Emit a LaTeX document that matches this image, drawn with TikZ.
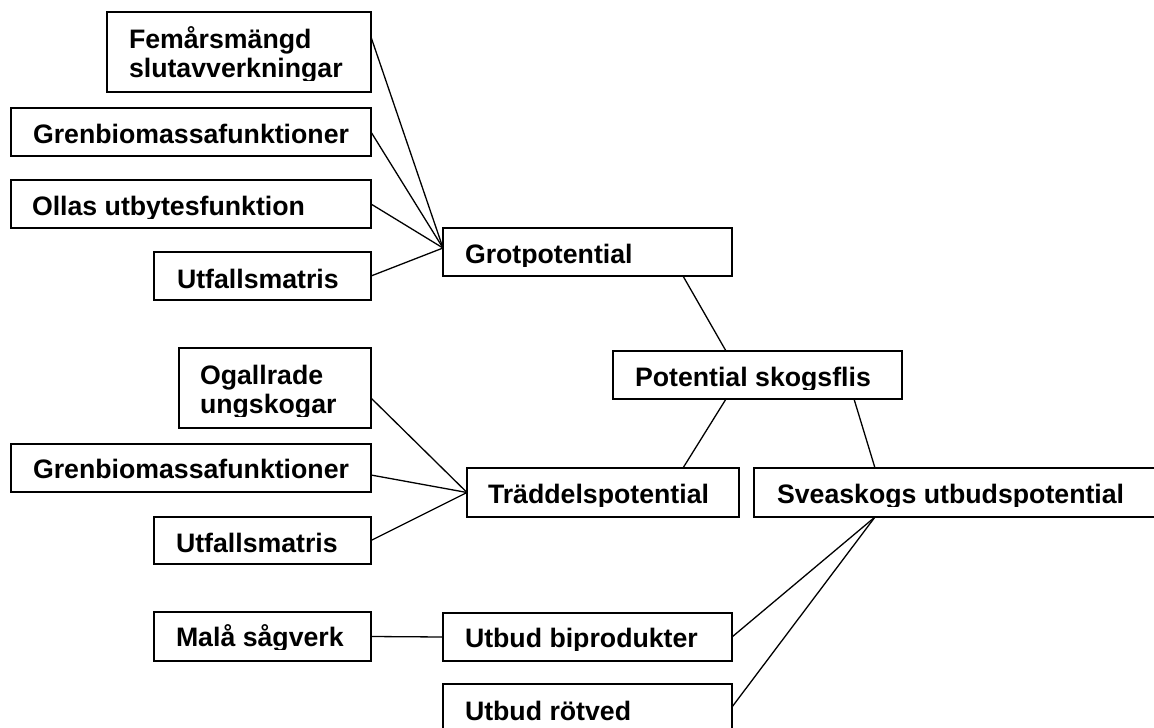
\documentclass[tikz,border=0pt]{standalone}
\usepackage{fontspec}
\setmainfont{Liberation Sans}
\usetikzlibrary{calc}
\tikzset{
  box/.style={draw=black, line width=1.5pt, rectangle, inner sep=0pt, outer sep=0pt, anchor=north west},
  lbl/.style={anchor=base west, inner sep=0pt, outer sep=0pt, font=\bfseries\fontsize{26.7}{30}\selectfont},
  conn/.style={draw=black, line width=1.3pt},
}
% name, x1, y1, x2, y2
\newcommand\mybox[5]{\node[box, minimum width={#4-#2}, minimum height={#5-#3}] (#1) at (#2,#3) {};}
% name, x1, y1, x2, clip-y, text-x, baseline, text
\newcommand\mytext[8]{\begin{scope}\clip (#2,#3) rectangle (#4,#5);
  \node[lbl] (#1) at (#6,#7) {#8};\end{scope}}
\begin{document}
\begin{tikzpicture}[x=1pt,y=-1pt]
\useasboundingbox (0,0) rectangle (1154,728);
\clip (0,0) rectangle (1154,728);
% boxes
\mybox{fem}{107}{12}{371}{92}
\mybox{grenA}{11}{108}{371}{156}
\mybox{ollas}{11}{180}{371}{228}
\mybox{utfA}{154}{252}{371}{300}
\mybox{grot}{443}{228}{732}{276}
\mybox{ps}{613}{351}{902}{399}
\mybox{ogal}{179}{348}{371}{428}
\mybox{grenB}{11}{444}{371}{492}
\mybox{utfB}{154}{517}{371}{564}
\mybox{mala}{154}{612}{371}{661}
\mybox{trad}{467}{468}{739}{517}
\mybox{svea}{754}{468}{1180}{517}
\mybox{ubi}{443}{613}{732}{661}
\mybox{urot}{443}{684}{732}{740}
% texts
\mytext{tfemA}{107}{12}{371}{80}{129}{48}{Femårsmängd}
\mytext{tfemB}{107}{12}{371}{80}{129}{77}{slutavverkningar}
\mytext{tgrenA}{11}{108}{371}{146}{33}{143}{Grenbiomassafunktioner}
\mytext{tollas}{11}{180}{371}{218}{32}{215}{Ollas utbytesfunktion}
\mytext{tutfA}{154}{252}{371}{291}{177}{288}{Utfallsmatris}
\mytext{tgrot}{443}{228}{732}{266}{465}{263}{Grotpotential}
\mytext{tps}{613}{351}{902}{389}{635}{386}{Potential skogsflis}
\mytext{togalA}{179}{348}{371}{416}{200}{384}{Ogallrade}
\mytext{togalB}{179}{348}{371}{416}{200}{413}{ungskogar}
\mytext{tgrenB}{11}{444}{371}{481}{33}{478}{Grenbiomassafunktioner}
\mytext{tutfB}{154}{517}{371}{555}{176}{552}{Utfallsmatris}
\mytext{tmala}{154}{612}{371}{649}{176}{646}{Malå sågverk}
\mytext{ttrad}{467}{468}{739}{506}{488}{503}{Träddelspotential}
\mytext{tsvea}{754}{468}{1180}{506}{777}{503}{Sveaskogs utbudspotential}
\mytext{tubi}{443}{613}{732}{650}{465}{647}{Utbud biprodukter}
\mytext{turot}{443}{684}{732}{723}{465}{720}{Utbud rötved}
% connectors
\draw[conn] ([yshift=15pt]fem.east) -- ([yshift=4pt]grot.west);
\draw[conn] (grenA.east) -- ([yshift=4pt]grot.west);
\draw[conn] (ollas.east) -- ([yshift=4pt]grot.west);
\draw[conn] (utfA.east) -- ([yshift=4pt]grot.west);
\draw[conn] ([xshift=-49pt]grot.south east) -- ([xshift=-31.5pt]ps.north);
\draw[conn] ([xshift=-31.5pt]ps.south) -- ([xshift=80pt]trad.north);
\draw[conn] ([xshift=96.5pt]ps.south) -- ([xshift=121pt]svea.north west);
\draw[conn] ([yshift=-10pt]ogal.east) -- (trad.west);
\draw[conn] ([yshift=-7pt]grenB.east) -- (trad.west);
\draw[conn] (utfB.east) -- (trad.west);
\draw[conn] (mala.east) -- (ubi.west);
\draw[conn] ([xshift=121pt]svea.south west) -- (ubi.east);
\draw[conn] ([xshift=121pt]svea.south west) -- ([yshift=5pt]urot.east);
\end{tikzpicture}
\end{document}
